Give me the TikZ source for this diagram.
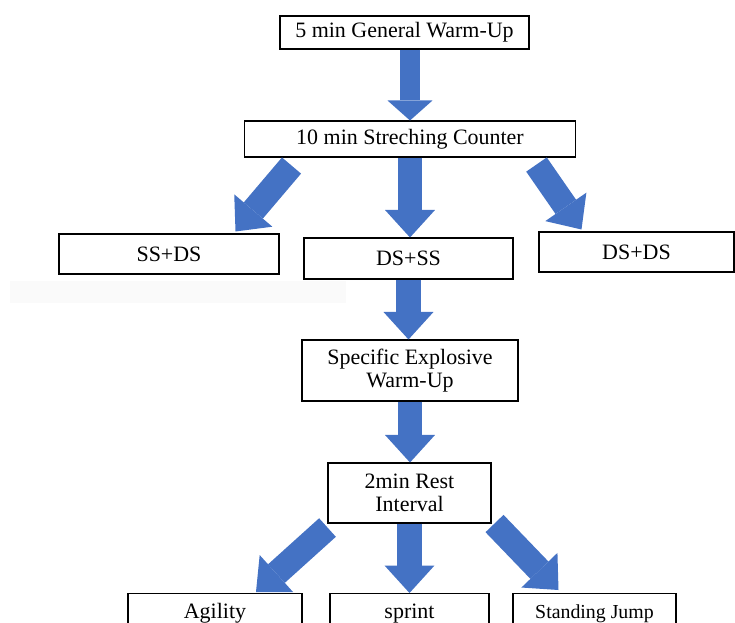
\documentclass[tikz,border=0pt]{standalone}
\usepackage{fontspec}
\setmainfont{Liberation Serif}
\usepackage{xcolor}
\usetikzlibrary{arrows.meta, calc}
\definecolor{flow_blue}{RGB}{68, 114, 196}

\begin{document}
\begin{tikzpicture}[x=0.02cm, y=-0.02cm,
            font=\fontsize{12.5}{13.4}\selectfont,
            blk/.style={draw, line width=0.6pt, align=center, inner sep=0pt},
            arr/.style={flow_blue, line width=0.5cm,
                        -{Triangle[width=1cm, length=0.55cm, line width=0pt 0]}},
            arrsmall/.style={flow_blue, line width=0.42cm,
                        -{Triangle[width=0.9cm, length=0.4cm, line width=0pt 0]}}]
            \useasboundingbox (0,0) rectangle (735,623);
            \clip (0,0) rectangle (735,623);
            \fill[black!2] (10,281) rectangle (346,303);
            \node[blk, minimum width=4.98cm, minimum height=0.66cm] (warm)
              at (404.5,32.5) {5 min General Warm-Up};
            \node[blk, minimum width=6.64cm, minimum height=0.72cm] (stretch)
              at (410,139) {10 min Streching Counter};
            \node[blk, minimum width=4.4cm, minimum height=0.8cm] (ssds)
              at (169,254) {SS+DS};
            \node[blk, minimum width=4.18cm, minimum height=0.82cm] (dsss)
              at (408.5,258.5) {DS+SS};
            \node[blk, minimum width=3.9cm, minimum height=0.8cm] (dsds)
              at (636.5,252) {DS+DS};
            \node[blk, minimum width=4.32cm, minimum height=1.22cm] (explosive)
              at (410,370.5) {Specific Explosive\\Warm-Up};
            \node[blk, minimum width=3.26cm, minimum height=1.2cm] (rest)
              at (409.5,493) {2min Rest\\Interval};
            \node[blk, minimum width=3.48cm, minimum height=0.8cm, anchor=north] (agility)
              at (215,593) {Agility};
            \node[blk, minimum width=3.18cm, minimum height=0.8cm, anchor=north] (sprint)
              at (409.5,593) {sprint};
            \node[blk, minimum width=3.26cm, minimum height=0.8cm, anchor=north,
                  font=\fontsize{11.3}{13}\selectfont] (jump)
              at (594.5,593) {Standing Jump};
            \draw[arrsmall] (warm.south -| stretch.north) -- (stretch.north);
            \draw[arr] (stretch.south) -- (stretch.south |- dsss.north);
            \draw[arr] ($(stretch.south west)+(48,8)$) -- ($(ssds.north east)+(-44,-2)$);
            \draw[arr] ($(stretch.south east)+(-40,7)$) -- ($(dsds.north west)+(43,-2)$);
            \draw[arr] (dsss.south) -- (dsss.south |- explosive.north);
            \draw[arr] (explosive.south) -- (explosive.south |- rest.north);
            \draw[arr] ($(rest.south west)+(0,4)$) -- ($(agility.north)+(41,-1)$);
            \draw[arr] (rest.south) -- (sprint.north);
            \draw[arr] ($(rest.south east)+(3,0)$) -- ($(jump.north)+(-36,-3)$);
          \end{tikzpicture}
\end{document}
